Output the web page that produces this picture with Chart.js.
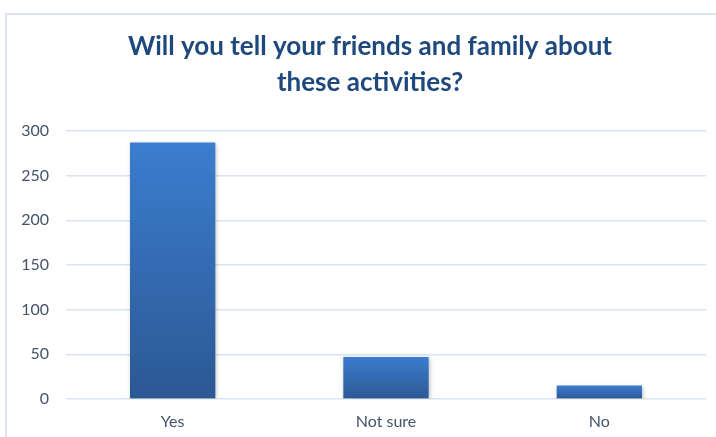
<!DOCTYPE html>
<html>
<head>
<meta charset="utf-8">
<script src="https://cdn.jsdelivr.net/npm/chart.js@4"></script>
<style>
html,body{margin:0;padding:0;background:#fff;}
#wrap{position:relative;width:716px;height:437px;overflow:hidden;}
#frame{position:absolute;left:5px;top:13px;width:740px;height:460px;border:2px solid #dae4f1;box-sizing:border-box;}
canvas{position:absolute;left:0;top:0;}
</style>
</head>
<body>
<div id="wrap"><div id="frame"></div><canvas id="c" width="716" height="437"></canvas></div>
<script>
const categories = ["Yes", "Not sure", "No"];
const responses = [287, 47, 15];
const titleLines = ["Will you tell your friends and family about", "these activities?"];
const yTicks = [0, 50, 100, 150, 200, 250, 300];

function barGradient(ctx) {
  const chart = ctx.chart;
  if (!chart.chartArea || ctx.type !== 'data') return '#3a77c4';
  const y = chart.scales.y;
  const top = y.getPixelForValue(ctx.raw);
  const bottom = y.getPixelForValue(0);
  const g = chart.ctx.createLinearGradient(0, top, 0, bottom);
  g.addColorStop(0, '#3b7dcf');
  g.addColorStop(1, '#2c5893');
  return g;
}

const shadowPlugin = {
  id: 'barShadow',
  beforeDatasetsDraw(chart) {
    const c = chart.ctx;
    c.save();
    c.shadowColor = 'rgba(0,0,0,0.25)';
    c.shadowBlur = 4;
    c.shadowOffsetX = 1;
    c.shadowOffsetY = 1;
  },
  afterDatasetsDraw(chart) { chart.ctx.restore(); }
};

// widen the y-axis label clip region so labels are not cut off
const labelRoom = {
  id: 'labelRoom',
  afterLayout(chart) { chart.scales.y.left = 0; }
};

new Chart(document.getElementById('c'), {
  type: 'bar',
  data: {
    labels: categories,
    datasets: [{
      data: responses,
      backgroundColor: barGradient,
      borderWidth: 0,
      categoryPercentage: 1.0,
      barPercentage: 0.4
    }]
  },
  plugins: [shadowPlugin, labelRoom],
  options: {
    responsive: false,
    animation: false,
    layout: { padding: { left: 34, right: 10, top: 0, bottom: 6 } },
    plugins: {
      legend: { display: false },
      tooltip: { enabled: false },
      title: {
        display: true,
        text: titleLines,
        color: '#1f497d',
        font: { family: 'Lato', size: 26, weight: 'bold', lineHeight: 1.35 },
        padding: { top: 29.5, bottom: 31.3 }
      }
    },
    scales: {
      x: {
        afterFit(scale) { scale.height = 32; },
        grid: { display: false, drawTicks: false },
        border: { display: false },
        ticks: { color: '#44546a', font: { family: 'Lato', size: 16 }, padding: 13 }
      },
      y: {
        min: 0, max: 300,
        afterBuildTicks(scale) { scale.ticks = yTicks.map(v => ({ value: v })); },
        afterFit(scale) { scale.width = 32; },
        grid: { color: '#d9e3f1', lineWidth: 1.5, drawTicks: false },
        border: { display: false },
        ticks: { color: '#44546a', font: { family: 'Lato', size: 16 }, padding: 17 }
      }
    }
  }
});
</script>
</body>
</html>
